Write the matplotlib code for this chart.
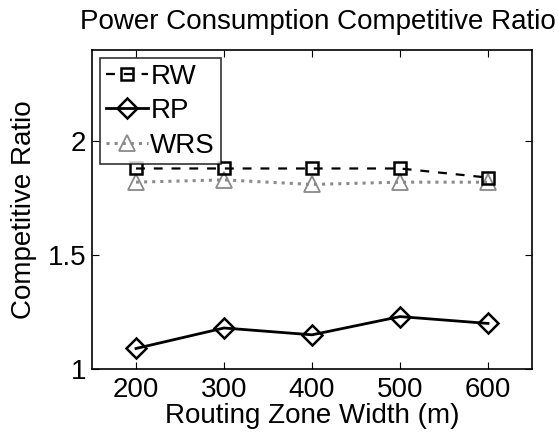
import matplotlib.pyplot as plt
import numpy as np

plt.rcParams['font.family'] = ['Liberation Sans', 'DejaVu Sans']

width = [200, 300, 400, 500, 600]
rw = [1.88, 1.88, 1.88, 1.88, 1.84]
rp = [1.09, 1.18, 1.15, 1.23, 1.20]
wrs = [1.82, 1.83, 1.81, 1.82, 1.82]

fig = plt.figure(figsize=(5.58, 4.32), dpi=100)
ax = fig.add_axes([92/558, 1-369/432, 440/558, 319/432])

ax.plot(width, wrs, color='#8a8a8a', linestyle=':', linewidth=2.2, marker='^',
        markersize=11, markerfacecolor='none', markeredgecolor='#8a8a8a', markeredgewidth=1.3, label='WRS', zorder=2)
ax.plot(width, rw, color='black', linestyle='--', linewidth=1.6, dashes=(4, 4), marker='s',
        markersize=9, markerfacecolor='none', markeredgewidth=1.8, label='RW', zorder=3)
ax.plot(width, rp, color='black', linestyle='-', linewidth=2, marker='D',
        markersize=10, markerfacecolor='none', markeredgewidth=1.8, label='RP', zorder=3)

ax.set_xlim(150, 650)
ax.set_ylim(1, 2.4)
ax.set_xticks(width)
ax.set_yticks([1, 1.5, 2])
ax.set_yticklabels(['1', '1.5', '2'])
ax.tick_params(direction='in', top=True, right=True, labelsize=20, length=5, pad=6)
ax.tick_params(axis='y', pad=4)
for s in ax.spines.values():
    s.set_linewidth(1.2)

ax.set_xlabel('Routing Zone Width (m)', fontsize=20, labelpad=0)
ax.set_ylabel('Competitive Ratio', fontsize=20, labelpad=8)
fig.text(0.57, 0.95, 'Power Consumption Competitive Ratio', fontsize=20, ha='center', va='center')

h, l = ax.get_legend_handles_labels()
order = [1, 2, 0]
leg = ax.legend([h[i] for i in order], [l[i] for i in order], loc='upper left', fontsize=20,
                frameon=True, fancybox=False, edgecolor='black', handlelength=1.5,
                handletextpad=0.1, labelspacing=0.3, borderpad=0.2, borderaxespad=0.3)
leg.get_frame().set_linewidth(1.2)

fig.savefig('out.png', dpi=100)
